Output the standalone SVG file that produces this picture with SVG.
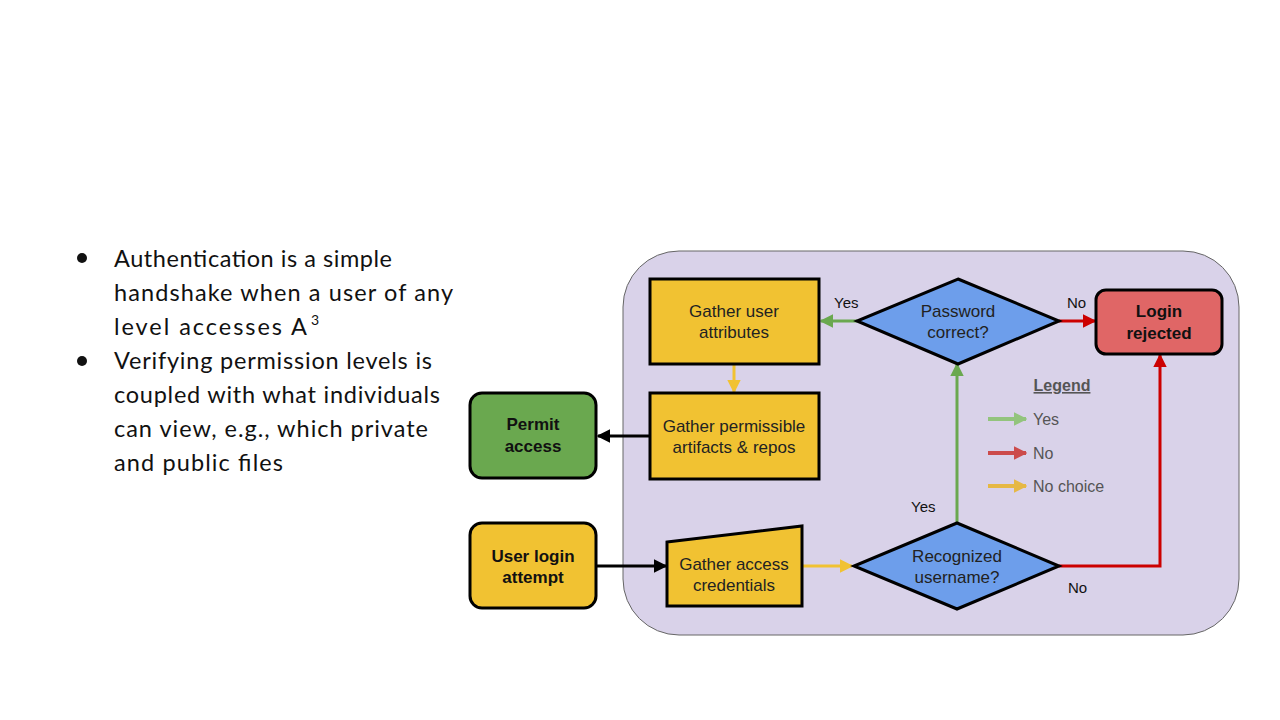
<svg xmlns="http://www.w3.org/2000/svg" width="1280" height="720" viewBox="0 0 1280 720">
<defs>
<style>
.bul{font-family:"Lato","Open Sans",sans-serif;font-size:23.5px;fill:#111}
.sup{font-family:"Lato","Open Sans",sans-serif;font-size:14px;fill:#111}
.box{stroke:#000;stroke-width:3}
.yel{fill:#f1c232}
.t{font-family:"Liberation Sans",Arial,sans-serif;font-size:17px;fill:#222;text-anchor:middle}
.tb{font-family:"Liberation Sans",Arial,sans-serif;font-size:17px;font-weight:bold;fill:#111;text-anchor:middle}
.lbl{font-family:"Liberation Sans",Arial,sans-serif;font-size:15px;fill:#111}
.leg{font-family:"Liberation Sans",Arial,sans-serif;font-size:16px;fill:#555}
.c{fill:none;stroke-width:3}
</style>
<marker id="aG" viewBox="0 0 10 10" refX="9" refY="5" markerWidth="4.5" markerHeight="4.5" orient="auto" markerUnits="strokeWidth"><path d="M0,0 L10,5 L0,10 z" fill="#6aa84f"/></marker>
<marker id="aR" viewBox="0 0 10 10" refX="9" refY="5" markerWidth="4.5" markerHeight="4.5" orient="auto" markerUnits="strokeWidth"><path d="M0,0 L10,5 L0,10 z" fill="#cc0000"/></marker>
<marker id="aY" viewBox="0 0 10 10" refX="9" refY="5" markerWidth="4.5" markerHeight="4.5" orient="auto" markerUnits="strokeWidth"><path d="M0,0 L10,5 L0,10 z" fill="#f1c232"/></marker>
<marker id="aK" viewBox="0 0 10 10" refX="9" refY="5" markerWidth="4.5" markerHeight="4.5" orient="auto" markerUnits="strokeWidth"><path d="M0,0 L10,5 L0,10 z" fill="#000"/></marker>
<marker id="lG" viewBox="0 0 10 10" refX="9" refY="5" markerWidth="3.4" markerHeight="3.8" orient="auto" markerUnits="strokeWidth"><path d="M0,0 L10,5 L0,10 z" fill="#93c47d"/></marker>
<marker id="lR" viewBox="0 0 10 10" refX="9" refY="5" markerWidth="3.4" markerHeight="3.8" orient="auto" markerUnits="strokeWidth"><path d="M0,0 L10,5 L0,10 z" fill="#cc4b4b"/></marker>
<marker id="lY" viewBox="0 0 10 10" refX="9" refY="5" markerWidth="3.4" markerHeight="3.8" orient="auto" markerUnits="strokeWidth"><path d="M0,0 L10,5 L0,10 z" fill="#e6b844"/></marker>
</defs>
<rect width="1280" height="720" fill="#fff"/>

<g id="bullets">
<circle cx="82" cy="258" r="5" fill="#111"/>
<circle cx="82" cy="361" r="5" fill="#111"/>
<text class="bul" x="114" y="267" textLength="278" lengthAdjust="spacing">Authentication is a simple</text>
<text class="bul" x="114" y="301" textLength="339" lengthAdjust="spacing">handshake when a user of any</text>
<text class="bul" x="114" y="335" textLength="193" lengthAdjust="spacing">level accesses A</text>
<text class="sup" x="311" y="325">3</text>
<text class="bul" x="114" y="369" textLength="318" lengthAdjust="spacing">Verifying permission levels is</text>
<text class="bul" x="114" y="403" textLength="326" lengthAdjust="spacing">coupled with what individuals</text>
<text class="bul" x="114" y="437" textLength="314" lengthAdjust="spacing">can view, e.g., which private</text>
<text class="bul" x="114" y="471" textLength="169" lengthAdjust="spacing">and public files</text>
</g>

<g id="container">
<rect x="623" y="251" width="616" height="384" rx="56" ry="56" fill="#d9d2e9" stroke="#666" stroke-width="1"/>
</g>

<g id="connectors">
<line class="c" x1="857" y1="321" x2="821" y2="321" stroke="#6aa84f" marker-end="url(#aG)"/>
<line class="c" x1="1059" y1="321" x2="1095" y2="321" stroke="#cc0000" marker-end="url(#aR)"/>
<line class="c" x1="734" y1="364" x2="734" y2="392" stroke="#f1c232" marker-end="url(#aY)"/>
<line class="c" x1="650" y1="436" x2="598" y2="436" stroke="#000" marker-end="url(#aK)"/>
<line class="c" x1="596" y1="566" x2="666" y2="566" stroke="#000" marker-end="url(#aK)"/>
<line class="c" x1="803" y1="566" x2="852" y2="566" stroke="#f1c232" marker-end="url(#aY)"/>
<line class="c" x1="957" y1="523" x2="957" y2="364" stroke="#6aa84f" marker-end="url(#aG)"/>
<polyline class="c" points="1059,566 1160,566 1160,355" stroke="#cc0000" marker-end="url(#aR)"/>
<text class="lbl" x="834" y="308">Yes</text>
<text class="lbl" x="1067" y="308">No</text>
<text class="lbl" x="911" y="512">Yes</text>
<text class="lbl" x="1068" y="593">No</text>
</g>

<g id="gather-user">
<rect class="box yel" x="650" y="279" width="169" height="85"/>
<text class="t" x="734" y="317">Gather user</text>
<text class="t" x="734" y="338">attributes</text>
</g>

<g id="password">
<polygon points="958,279 1059,321 958,364 857,321" fill="#6d9eeb" stroke="#000" stroke-width="3"/>
<text class="t" x="958" y="317">Password</text>
<text class="t" x="958" y="338">correct?</text>
</g>

<g id="login-rejected">
<rect class="box" x="1096" y="290" width="126" height="64" rx="10" fill="#e06666"/>
<text class="tb" x="1159" y="317">Login</text>
<text class="tb" x="1159" y="339">rejected</text>
</g>

<g id="gather-permissible">
<rect class="box yel" x="650" y="393" width="169" height="86"/>
<text class="t" x="734" y="432">Gather permissible</text>
<text class="t" x="734" y="453">artifacts &amp; repos</text>
</g>

<g id="permit-access">
<rect class="box" x="470" y="393" width="126" height="85" rx="12" fill="#6aa84f"/>
<text class="tb" x="533" y="430">Permit</text>
<text class="tb" x="533" y="452">access</text>
</g>

<g id="user-login">
<rect class="box yel" x="470" y="523" width="126" height="85" rx="12"/>
<text class="tb" x="533" y="562">User login</text>
<text class="tb" x="533" y="583">attempt</text>
</g>

<g id="gather-access">
<polygon class="box yel" points="667,542 802,526 802,606 667,606"/>
<text class="t" x="734" y="570">Gather access</text>
<text class="t" x="734" y="591">credentials</text>
</g>

<g id="recognized">
<polygon points="957,523 1059,566 957,609 854,566" fill="#6d9eeb" stroke="#000" stroke-width="3"/>
<text class="t" x="957" y="562">Recognized</text>
<text class="t" x="957" y="583">username?</text>
</g>

<g id="legend">
<text x="1062" y="391" text-anchor="middle" font-family="Liberation Sans, Arial, sans-serif" font-size="16" font-weight="bold" fill="#555" text-decoration="underline">Legend</text>
<line x1="988" y1="419" x2="1026" y2="419" stroke="#93c47d" stroke-width="4" marker-end="url(#lG)"/>
<line x1="988" y1="453" x2="1026" y2="453" stroke="#cc4b4b" stroke-width="4" marker-end="url(#lR)"/>
<line x1="988" y1="486" x2="1026" y2="486" stroke="#e6b844" stroke-width="4" marker-end="url(#lY)"/>
<text class="leg" x="1033" y="425">Yes</text>
<text class="leg" x="1033" y="459">No</text>
<text class="leg" x="1033" y="492">No choice</text>
</g>
</svg>
